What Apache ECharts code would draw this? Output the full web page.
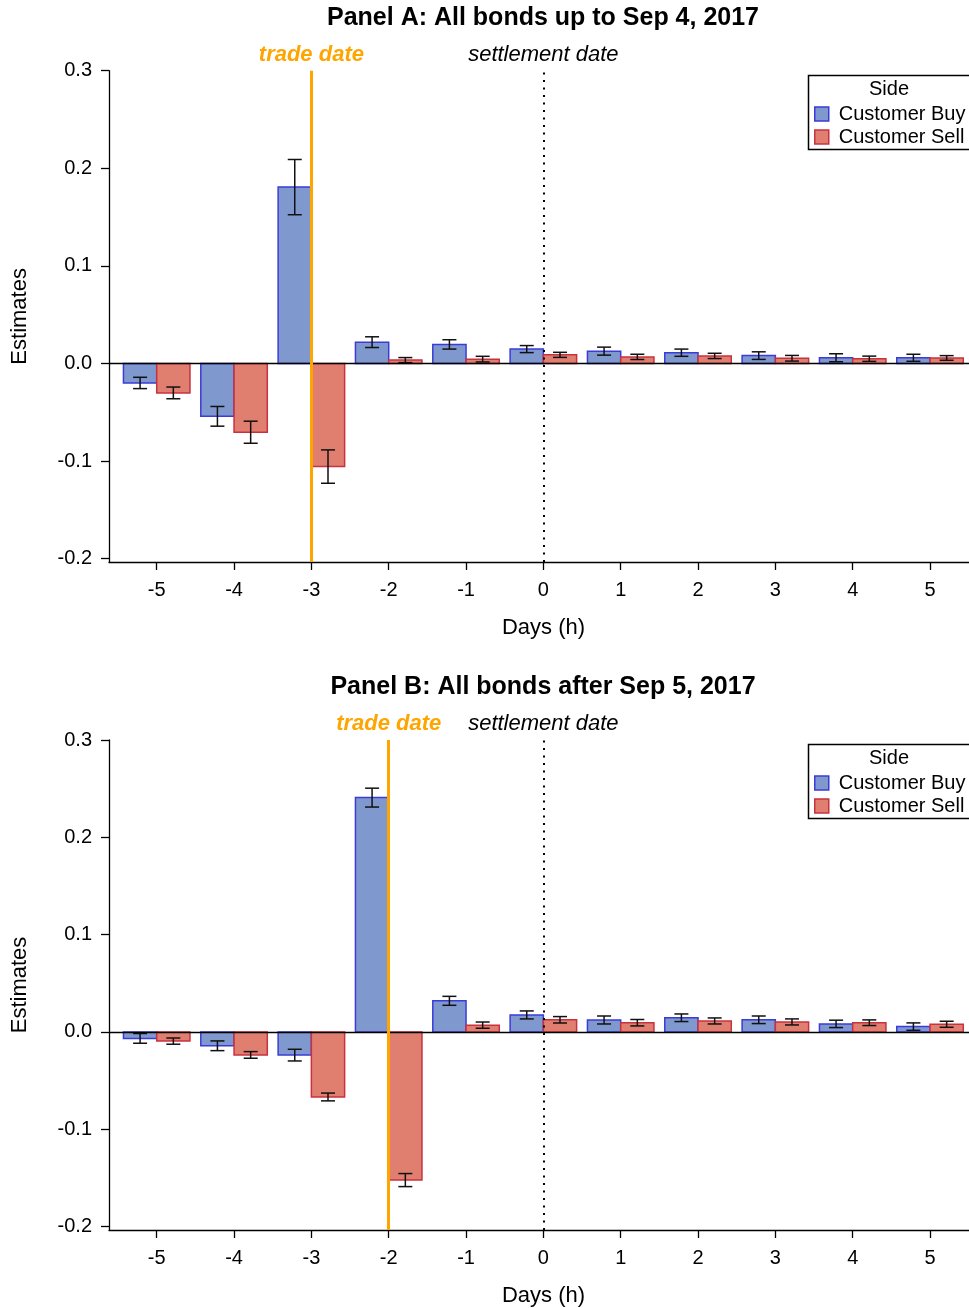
<!DOCTYPE html>
<html>
<head>
<meta charset="utf-8">
<script src="https://cdn.jsdelivr.net/npm/echarts@6/dist/echarts.min.js"></script>
<style>
html, body { margin: 0; padding: 0; background: #fff; }
#chart { width: 969px; height: 1308px; }
</style>
</head>
<body>
<div id="chart"></div>
<script>
// Event days relative to settlement and axis tick values
const days = [-5, -4, -3, -2, -1, 0, 1, 2, 3, 4, 5];
const yTicks = [-0.2, -0.1, 0.0, 0.1, 0.2, 0.3];

// Panel A: all bonds up to Sep 4, 2017 (estimate and half-width of the error bar)
const buyA    = [-0.0200, -0.0542, 0.1807, 0.0218, 0.0195, 0.0147, 0.0126, 0.0110, 0.0080, 0.0058, 0.0058];
const buyAse  = [ 0.0058,  0.0101, 0.0283, 0.0055, 0.0048, 0.0036, 0.0041, 0.0037, 0.0039, 0.0041, 0.0036];
const sellA   = [-0.0302, -0.0705, -0.1057, 0.0034, 0.0044, 0.0088, 0.0067, 0.0077, 0.0053, 0.0048, 0.0056];
const sellAse = [ 0.0060,  0.0113,  0.0171, 0.0026, 0.0029, 0.0026, 0.0027, 0.0027, 0.0029, 0.0027, 0.0024];

// Panel B: all bonds after Sep 5, 2017
const buyB    = [-0.0066, -0.0142, -0.0238, 0.2408, 0.0320, 0.0175, 0.0123, 0.0146, 0.0125, 0.0083, 0.0055];
const buyBse  = [ 0.0050,  0.0050,  0.0060, 0.0097, 0.0046, 0.0041, 0.0041, 0.0039, 0.0039, 0.0038, 0.0038];
const sellB   = [-0.0094, -0.0236, -0.0668, -0.1522, 0.0070, 0.0125, 0.0095, 0.0113, 0.0103, 0.0095, 0.0079];
const sellBse = [ 0.0032,  0.0034,  0.0040,  0.0067, 0.0032, 0.0033, 0.0033, 0.0031, 0.0031, 0.0029, 0.0031];

// Reference days marked with vertical lines
const tradeDayA = -3;
const tradeDayB = -2;
const settleDay = 0;

const FONT = '"Liberation Sans", Arial, Helvetica, sans-serif';
const BUY  = { fill: '#7f99cf', stroke: '#3b3bd8' };
const SELL = { fill: '#e07f70', stroke: '#c8323f' };
const ORANGE = '#ffa500';
const BAR_W = 0.43;      // bar width in day units
const CAP = 7;           // error-bar cap half width (px)

function barRenderer(side, color) {
  return function (params, api) {
    const d = api.value(0), v = api.value(1), se = api.value(2);
    const x0 = side === 'buy' ? d - BAR_W : d;
    const x1 = x0 + BAR_W;
    const p0 = api.coord([x0, 0]);
    const p1 = api.coord([x1, v]);
    const xc = api.coord([x0 + BAR_W / 2, 0])[0];
    const hi = api.coord([d, v + se])[1];
    const lo = api.coord([d, v - se])[1];
    const err = { stroke: '#111', lineWidth: 1.5 };
    return {
      type: 'group',
      children: [
        {
          type: 'rect',
          shape: {
            x: Math.min(p0[0], p1[0]), y: Math.min(p0[1], p1[1]),
            width: Math.abs(p1[0] - p0[0]), height: Math.abs(p1[1] - p0[1])
          },
          style: { fill: color.fill, stroke: color.stroke, lineWidth: 1.5 }
        },
        { type: 'line', shape: { x1: xc, y1: hi, x2: xc, y2: lo }, style: err },
        { type: 'line', shape: { x1: xc - CAP, y1: hi, x2: xc + CAP, y2: hi }, style: err },
        { type: 'line', shape: { x1: xc - CAP, y1: lo, x2: xc + CAP, y2: lo }, style: err }
      ]
    };
  };
}

function rows(vals, errs) {
  return days.map((d, i) => [d, vals[i], errs[i]]);
}

function refLines(tradeDay) {
  return {
    silent: true,
    symbol: ['none', 'none'],
    animation: false,
    data: [
      { yAxis: 0, lineStyle: { color: '#000', width: 1.3, type: 'solid' }, label: { show: false } },
      {
        xAxis: settleDay,
        lineStyle: { color: '#000', width: 2, type: [2, 5.5] },
        label: { show: true, position: 'end', distance: 5, formatter: 'settlement date',
                 color: '#000', fontSize: 22, fontStyle: 'italic', fontFamily: FONT }
      },
      {
        xAxis: tradeDay,
        lineStyle: { color: ORANGE, width: 3, type: 'solid' },
        label: { show: true, position: 'end', distance: 5, formatter: 'trade date',
                 color: ORANGE, fontSize: 22, fontStyle: 'italic', fontWeight: 'bold', fontFamily: FONT }
      }
    ]
  };
}

const PANEL_TOP = [70.7, 740];
const PANEL_H = [491.3, 490];

function xAxisFor(i) {
  return {
    type: 'value', gridIndex: i, min: -5.617, max: 5.504,
    name: 'Days (h)', nameLocation: 'middle', nameGap: 55,
    nameTextStyle: { fontSize: 22, color: '#000', fontFamily: FONT, padding: [0, 0, 0, 9] },
    axisLine: { show: true, onZero: false, lineStyle: { color: '#000', width: 1.3 } },
    axisTick: { show: true, length: 8, inside: false, customValues: days, lineStyle: { color: '#000', width: 1.3 } },
    axisLabel: { customValues: days, margin: 18, fontSize: 20, color: '#000', fontFamily: FONT,
                 formatter: v => String(Math.round(v)) },
    splitLine: { show: false }
  };
}

function yAxisFor(i) {
  return {
    type: 'value', gridIndex: i, min: -0.2035, max: 0.3,
    name: 'Estimates', nameLocation: 'middle', nameGap: 78, nameRotate: 90,
    nameTextStyle: { fontSize: 22, color: '#000', fontFamily: FONT },
    axisLine: { show: true, onZero: false, lineStyle: { color: '#000', width: 1.3 } },
    axisTick: { show: true, length: 8, inside: false, customValues: yTicks, lineStyle: { color: '#000', width: 1.3 } },
    axisLabel: { customValues: yTicks, margin: 17, fontSize: 20, color: '#000', fontFamily: FONT,
                 formatter: v => (Math.abs(v) < 1e-9 ? 0 : v).toFixed(1) },
    splitLine: { show: false }
  };
}

function legendFor(top) {
  return {
    orient: 'vertical', left: 814, top: top, padding: 0,
    itemWidth: 14, itemHeight: 14, itemGap: 3,
    textStyle: { fontSize: 20, color: '#000', fontFamily: FONT, lineHeight: 20, padding: [0, 0, 0, 5] },
    selectedMode: false,
    data: [
      { name: 'Customer Buy', icon: 'rect', itemStyle: { color: BUY.fill, borderColor: BUY.stroke, borderWidth: 1.5 } },
      { name: 'Customer Sell', icon: 'rect', itemStyle: { color: SELL.fill, borderColor: SELL.stroke, borderWidth: 1.5 } }
    ]
  };
}

function legendBox(top) {
  return [
    { type: 'rect', shape: { x: 808.5, y: top + 0.5, width: 175, height: 74 },
      style: { fill: 'none', stroke: '#000', lineWidth: 1.5 }, z: 10 },
    { type: 'text', x: 889, y: top + 14,
      style: { text: 'Side', fontSize: 20, fontFamily: FONT, fill: '#000', align: 'center', verticalAlign: 'middle' }, z: 10 }
  ];
}

function panelTitle(text, y) {
  return { type: 'text', x: 543, y: y,
    style: { text: text, fontSize: 25, fontWeight: 'bold', fontFamily: FONT, fill: '#000',
             align: 'center', verticalAlign: 'middle' } };
}

const chart = echarts.init(document.getElementById('chart'), null, { renderer: 'canvas' });

chart.setOption({
  animation: false,
  backgroundColor: '#fff',
  grid: [
    { left: 109, width: 860, top: PANEL_TOP[0], height: PANEL_H[0] },
    { left: 109, width: 860, top: PANEL_TOP[1], height: PANEL_H[1] }
  ],
  xAxis: [xAxisFor(0), xAxisFor(1)],
  yAxis: [yAxisFor(0), yAxisFor(1)],
  legend: [legendFor(104), legendFor(773)],
  graphic: [
    panelTitle('Panel A: All bonds up to Sep 4, 2017', 18),
    panelTitle('Panel B: All bonds after Sep 5, 2017', 687),
    ...legendBox(75),
    ...legendBox(744)
  ],
  series: [
    { name: 'Customer Buy', type: 'custom', xAxisIndex: 0, yAxisIndex: 0,
      itemStyle: { color: BUY.fill, borderColor: BUY.stroke },
      renderItem: barRenderer('buy', BUY), encode: { x: 0, y: 1 }, data: rows(buyA, buyAse) },
    { name: 'Customer Sell', type: 'custom', xAxisIndex: 0, yAxisIndex: 0,
      itemStyle: { color: SELL.fill, borderColor: SELL.stroke },
      renderItem: barRenderer('sell', SELL), encode: { x: 0, y: 1 }, data: rows(sellA, sellAse),
      markLine: refLines(tradeDayA) },
    { name: 'Customer Buy', type: 'custom', xAxisIndex: 1, yAxisIndex: 1,
      itemStyle: { color: BUY.fill, borderColor: BUY.stroke },
      renderItem: barRenderer('buy', BUY), encode: { x: 0, y: 1 }, data: rows(buyB, buyBse) },
    { name: 'Customer Sell', type: 'custom', xAxisIndex: 1, yAxisIndex: 1,
      itemStyle: { color: SELL.fill, borderColor: SELL.stroke },
      renderItem: barRenderer('sell', SELL), encode: { x: 0, y: 1 }, data: rows(sellB, sellBse),
      markLine: refLines(tradeDayB) }
  ]
});
</script>
</body>
</html>
